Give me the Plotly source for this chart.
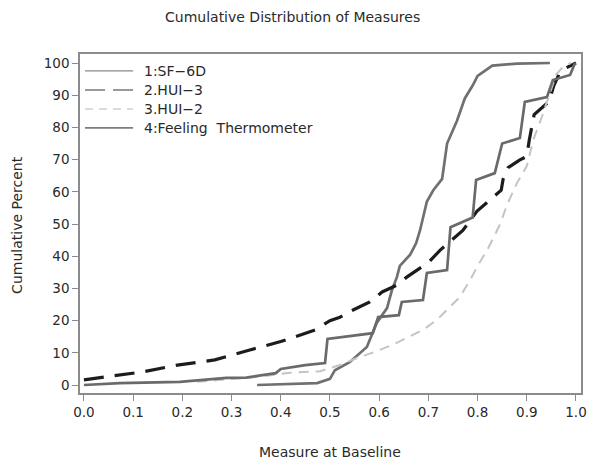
import plotly.graph_objects as go

# ---- data ----
sf6d_x = [0.352, 0.40, 0.45, 0.474, 0.50, 0.51, 0.54, 0.575, 0.595, 0.616, 0.626, 0.636,
          0.642, 0.663, 0.675, 0.683, 0.697, 0.71, 0.728, 0.738, 0.758, 0.774, 0.79, 0.80,
          0.83, 0.88, 0.947]
sf6d_y = [0.0, 0.2, 0.4, 0.6, 1.9, 4.6, 7.1, 11.8, 19.3, 23.9, 29.5, 33.5,
          37.0, 40.5, 44.0, 48.0, 57.0, 60.5, 64.0, 75.0, 82.0, 89.0, 93.0, 96.0,
          99.2, 99.8, 100.0]

hui3_x = [0.0, 0.12, 0.19, 0.266, 0.337, 0.40, 0.47, 0.50, 0.52, 0.547, 0.581, 0.606,
          0.636, 0.656, 0.683, 0.703, 0.724, 0.748, 0.77, 0.799, 0.825, 0.848, 0.852,
          0.862, 0.886, 0.90, 0.905, 0.915, 0.945, 0.955, 0.967, 0.98, 1.0]
hui3_y = [1.6, 4.1, 6.2, 7.8, 10.9, 13.5, 17.1, 20.0, 21.0, 23.3, 25.8, 28.9,
          31.0, 33.5, 36.3, 38.5, 41.9, 45.0, 48.0, 54.0, 57.5, 60.5, 64.0,
          67.5, 69.9, 71.0, 76.0, 84.0, 88.0, 93.0, 97.0, 98.5, 100.0]

hui2_x = [0.23, 0.30, 0.35, 0.42, 0.48, 0.52, 0.555, 0.591, 0.626, 0.659, 0.689, 0.717,
          0.744, 0.764, 0.785, 0.80, 0.82, 0.846, 0.86, 0.88, 0.90, 0.913, 0.93, 0.947,
          0.96, 0.975, 0.99]
hui2_y = [1.0, 1.8, 2.5, 3.8, 4.3, 6.2, 8.4, 10.3, 12.4, 14.9, 17.1, 20.2,
          24.2, 27.3, 32.6, 37.0, 42.0, 50.0, 56.0, 62.7, 68.0, 76.0, 83.0, 91.0,
          96.5, 99.0, 100.0]

ft_x = [0.0, 0.073, 0.195, 0.29, 0.33, 0.39, 0.40, 0.45, 0.49, 0.495, 0.587, 0.598,
        0.640, 0.646, 0.689, 0.697, 0.738, 0.745, 0.79, 0.797, 0.835, 0.85, 0.886,
        0.896, 0.941, 0.953, 0.988, 0.998]
ft_y = [0.0, 0.6, 1.0, 2.2, 2.3, 3.7, 5.0, 6.2, 6.8, 14.3, 16.1, 21.1,
        21.7, 25.8, 26.4, 34.8, 35.7, 49.0, 52.0, 63.7, 65.8, 75.0, 76.7,
        87.9, 89.4, 94.7, 96.3, 100.0]

names = ["1:SF\u22126D", "2.HUI\u22123", "3.HUI\u22122", "4:Feeling  Thermometer"]
x_ticks = [0.0, 0.1, 0.2, 0.3, 0.4, 0.5, 0.6, 0.7, 0.8, 0.9, 1.0]
y_ticks = [0, 10, 20, 30, 40, 50, 60, 70, 80, 90, 100]

FONT = "DejaVu Sans, Verdana, sans-serif"
TXT = "#2a2a2a"
fig = go.Figure()

styles = [
    dict(color="#707070", width=2.7, dash="solid"),
    dict(color="#1c1c1c", width=3.2, dash="20px,11px"),
    dict(color="#c4c4c4", width=2.0, dash="10px,7px"),
    dict(color="#6a6a6a", width=2.7, dash="solid"),
]
all_x = [sf6d_x, hui3_x, hui2_x, ft_x]
all_y = [sf6d_y, hui3_y, hui2_y, ft_y]
for xs, ys, ln, nm in zip(all_x, all_y, styles, names):
    fig.add_trace(go.Scatter(x=xs, y=ys, mode="lines", line=ln, name=nm,
                             showlegend=False, hoverinfo="skip"))

# legend drawn inside the plot frame (thin sample lines like the original)
legend_lines = [
    dict(color="#8a8a8a", width=1.2, dash="solid"),
    dict(color="#9a9a9a", width=2.0, dash="20px,8px"),
    dict(color="#d0d0d0", width=1.5, dash="8px,6px"),
    dict(color="#7c7c7c", width=1.6, dash="solid"),
]
leg_y = [0.950, 0.894, 0.838, 0.782]
for nm, ln, yy in zip(names, legend_lines, leg_y):
    fig.add_shape(type="line", xref="paper", yref="paper", x0=0.010, x1=0.106,
                  y0=yy, y1=yy, line=ln)
    fig.add_annotation(text=nm, xref="paper", yref="paper", x=0.124, y=yy,
                       xanchor="left", yanchor="middle", showarrow=False,
                       font=dict(family=FONT, size=14, color=TXT))

axis_common = dict(showgrid=False, zeroline=False, showline=True, linecolor="#8c8c8c",
                   linewidth=1.5, mirror=True, ticks="outside", ticklen=6,
                   tickcolor="#8c8c8c", tickwidth=1.2, automargin=False,
                   tickfont=dict(family=FONT, size=13.5, color=TXT))

# the page body adds an 8px offset, so the figure is 8px smaller than the window
fig.update_layout(
    width=592, height=465,
    margin=dict(l=72, r=19, t=46, b=80),
    paper_bgcolor="white", plot_bgcolor="white",
    xaxis=dict(range=[-0.008, 1.0102], tickvals=x_ticks,
               ticktext=[f"{v:.1f}" for v in x_ticks], **axis_common),
    yaxis=dict(range=[-2.48, 102.8], tickvals=y_ticks, **axis_common),
    showlegend=False,
)
fig.add_annotation(text="Cumulative Distribution of Measures", xref="paper", yref="paper",
                   x=0.425, y=1.109, xanchor="center", yanchor="middle", showarrow=False,
                   font=dict(family=FONT, size=14, color=TXT))
fig.add_annotation(text="Measure at Baseline", xref="paper", yref="paper",
                   x=0.499, y=-0.174, xanchor="center", yanchor="middle", showarrow=False,
                   font=dict(family=FONT, size=14, color=TXT))
fig.add_annotation(text="Cumulative Percent", xref="paper", yref="paper",
                   x=-0.1257, y=0.496, xanchor="center", yanchor="middle", showarrow=False,
                   textangle=-90, font=dict(family=FONT, size=14, color=TXT))

fig.write_html("out.html")
